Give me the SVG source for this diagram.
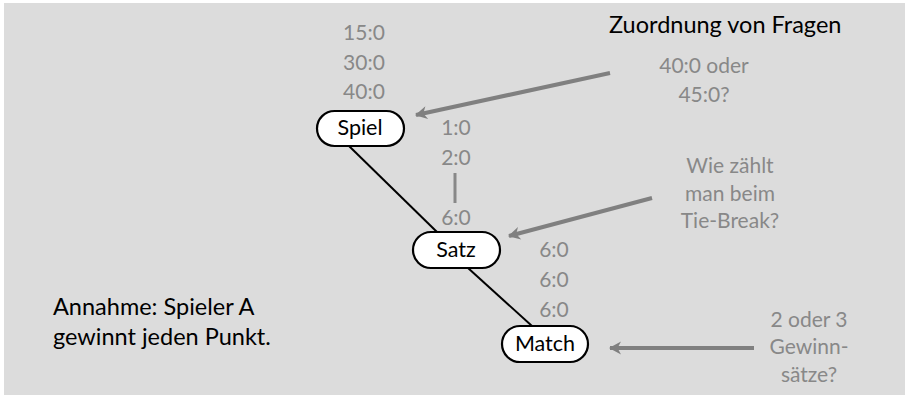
<svg xmlns="http://www.w3.org/2000/svg" width="908" height="395" viewBox="0 0 908 395">
<defs>
<marker id="ah" markerUnits="userSpaceOnUse" markerWidth="16" markerHeight="16" viewBox="0 0 16 16" refX="14" refY="8" orient="auto">
<path d="M15,8 L3,1.5 L6.5,8 L3,14.5 Z" fill="#808080"/>
</marker>
<style>
.bg{fill:#dcdcdc}
.node rect{fill:#fff;stroke:#000;stroke-width:2.2}
.node text{font-family:Lato,"Open Sans",sans-serif;font-size:21.5px;fill:#000;text-anchor:middle}
.edge{stroke:#000;stroke-width:2;fill:none}
.arrow{stroke:#808080;stroke-width:4;fill:none;marker-end:url(#ah)}
.g{font-family:Lato,"Open Sans",sans-serif;font-size:21px;fill:#888;text-anchor:middle}
.b{font-family:Lato,"Open Sans",sans-serif;font-size:23.5px;fill:#000}
</style>
</defs>
<rect class="bg" x="4" y="3" width="901" height="392"/>
<g id="connectors">
<line class="edge" x1="349" y1="146" x2="437" y2="232"/>
<line class="edge" x1="468" y1="268" x2="532" y2="326"/>
<line x1="455" y1="173" x2="455" y2="203" stroke="#888" stroke-width="3"/>
<line class="arrow" x1="610" y1="73" x2="416" y2="115"/>
<line class="arrow" x1="652" y1="198" x2="509" y2="236"/>
<line class="arrow" x1="754" y1="348" x2="610" y2="348"/>
</g>
<g id="spiel" class="node">
<rect x="317" y="111" width="87" height="35" rx="17.5"/>
<text x="360" y="135">Spiel</text>
</g>
<g id="satz" class="node">
<rect x="413" y="232" width="87" height="36" rx="18"/>
<text x="456" y="257">Satz</text>
</g>
<g id="match" class="node">
<rect x="502" y="326" width="86" height="36" rx="18"/>
<text x="545" y="351">Match</text>
</g>
<g id="labels">
<text class="g" x="364" y="40">15:0</text>
<text class="g" x="364" y="70">30:0</text>
<text class="g" x="364" y="99">40:0</text>
<text class="g" x="456" y="135">1:0</text>
<text class="g" x="456" y="165">2:0</text>
<text class="g" x="456" y="225">6:0</text>
<text class="g" x="554" y="257">6:0</text>
<text class="g" x="554" y="287">6:0</text>
<text class="g" x="554" y="317">6:0</text>
<text class="b" x="609" y="33">Zuordnung von Fragen</text>
<text class="g" x="704" y="73">40:0 oder</text>
<text class="g" x="704" y="102">45:0?</text>
<text class="g" x="730" y="173">Wie zählt</text>
<text class="g" x="730" y="201">man beim</text>
<text class="g" x="730" y="228">Tie-Break?</text>
<text class="g" x="809" y="327">2 oder 3</text>
<text class="g" x="809" y="354">Gewinn-</text>
<text class="g" x="809" y="382">sätze?</text>
<text class="b" x="53" y="315">Annahme: Spieler A</text>
<text class="b" x="53" y="345">gewinnt jeden Punkt.</text>
</g>
</svg>
